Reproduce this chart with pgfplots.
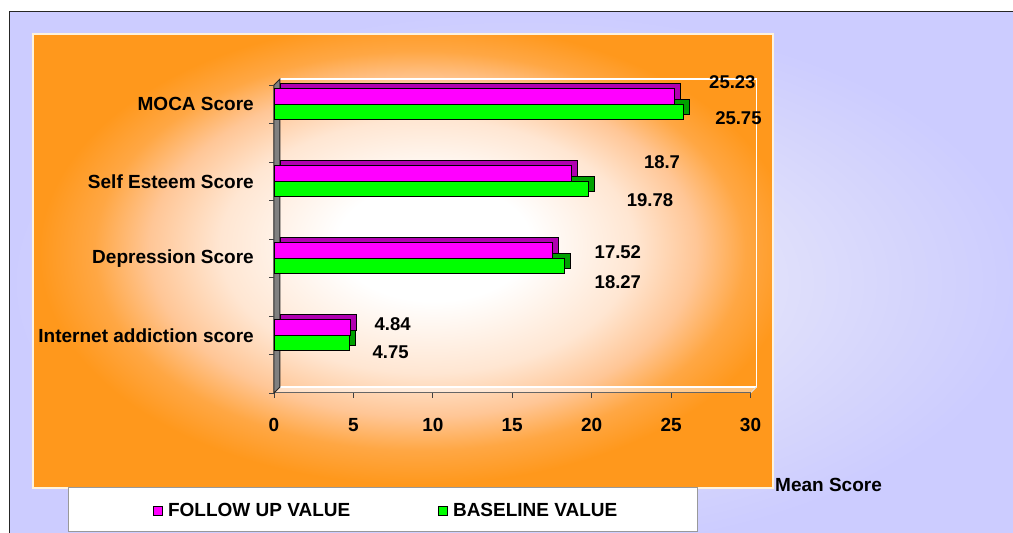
\documentclass[border=0pt]{standalone}
\usepackage{pgfplots}
\pgfplotsset{compat=1.18}
\usepackage{fontspec}
\setmainfont{Liberation Sans}

% bar faces and their darker 3D sides
\definecolor{fupink}{HTML}{FF00FF}
\definecolor{fupinkside}{HTML}{B000B0}
\definecolor{blgreen}{HTML}{00FF00}
\definecolor{blgreenside}{HTML}{00A000}
% backgrounds
\definecolor{plotrim}{HTML}{FFF3DC}
\definecolor{orA}{HTML}{FFE6D2}
\definecolor{orB}{HTML}{FFC696}
\definecolor{orC}{HTML}{FFA744}
\definecolor{orD}{HTML}{FF981C}
\definecolor{lavA}{HTML}{EEEEFD}
\definecolor{lavB}{HTML}{E2E2FB}
\definecolor{lavC}{HTML}{D5D5FC}
\definecolor{lavD}{HTML}{CCCCFF}

% radial glows; a shaded box spans -25bp..25bp of the shading
\pgfdeclareradialshading{plotglow}{\pgfpoint{2.5bp}{2.5bp}}{%
  color(0bp)=(white); color(6.5bp)=(white); color(14bp)=(orA);
  color(18.5bp)=(orB); color(22bp)=(orC); color(25.5bp)=(orD); color(40bp)=(orD)}
\pgfdeclareradialshading{chartglow}{\pgfpoint{0bp}{0bp}}{%
  color(0bp)=(lavA); color(11bp)=(lavB); color(19bp)=(lavC);
  color(25bp)=(lavD); color(40bp)=(lavD)}

\newcommand{\lblfont}{\bfseries\fontsize{19}{23}\selectfont}
\newcommand{\valfont}{\bfseries\fontsize{18.5}{22}\selectfont}

\begin{document}
\begin{tikzpicture}[x=1pt,y=1pt]
\useasboundingbox (0,0) rectangle (1013,533);
\fill[white] (0,0) rectangle (1013,533);
% chart area
\shade[shading=chartglow] (9.5,-20) rectangle (1030,521.5);
\draw[black!85, line width=1.6pt] (9.5,-20) -- (9.5,521.5) -- (1030,521.5);
% plot area
\shade[shading=plotglow] (33,45) rectangle (773,499);
\draw[plotrim, line width=1.2pt] (33,45) rectangle (773,499);
% legend frame
\filldraw[fill=white, draw=black!40, line width=1pt] (68,1) rectangle (697,45);

\begin{axis}[
  at={(274pt,140pt)}, anchor=south west,
  scale only axis, width=476.5pt, height=308pt,
  xmin=0, xmax=30, ymin=0.25, ymax=4.25,
  clip=false,
  axis line style={draw=none},
  xtick={0,5,...,30}, xtick pos=bottom,
  ytick={1,2,3,4},
  yticklabels={Internet addiction score, Depression Score, Self Esteem Score, MOCA Score},
  ytick pos=left,
  tick align=outside, major tick length=5pt,
  xtick style={draw=black!75, line width=0.8pt},
  ytick style={draw=none},
  ticklabel style={font=\lblfont},
  /pgf/number format/assume math mode=true,
  xticklabel style={inner sep=0pt, yshift=-20pt},
  yticklabel style={inner sep=0pt, xshift=-15pt},
  xlabel={Mean Score},
  xlabel style={at={(axis description cs:1.0514,-0.2987)}, anchor=west, inner sep=0pt, font=\lblfont},
  legend columns=2,
  legend style={at={(axis description cs:-0.2539,-0.3831)}, anchor=west,
    draw=none, fill=none, inner sep=0pt, font=\lblfont,
    nodes={inner sep=0pt, anchor=west},
    /tikz/every odd column/.append style={column sep=5pt},
    /tikz/every even column/.append style={column sep=88pt}},
  legend image code/.code={\draw[#1, draw=black, line width=0.8pt] (0pt,-4.5pt) rectangle (9pt,4.5pt);},
]
% 3D frame: left wall, floor and back edges
\fill[white, opacity=0.45] (axis cs:0,0.25) -- (axis cs:30,0.25)
  -- ([shift={(6pt,6pt)}]axis cs:30,0.25) -- ([shift={(6pt,6pt)}]axis cs:0,0.25) -- cycle;
\draw[white, line width=1.5pt] ([shift={(6pt,6pt)}]axis cs:0,0.25) -- ([shift={(6pt,6pt)}]axis cs:30,0.25)
  -- ([shift={(6pt,6pt)}]axis cs:30,4.25) -- ([shift={(6pt,6pt)}]axis cs:0,4.25);
\draw[white!75!gray, line width=1pt] (axis cs:30,0.25) -- ([shift={(6pt,6pt)}]axis cs:30,0.25);
\draw[black!60, line width=1pt] (axis cs:0,0.25) -- (axis cs:30,0.25);
\filldraw[fill=gray, draw=black!85, line width=1pt] (axis cs:0,0.25) -- (axis cs:0,4.25)
  -- ([shift={(6pt,6pt)}]axis cs:0,4.25) -- ([shift={(6pt,6pt)}]axis cs:0,0.25) -- cycle;
\pgfplotsinvokeforeach{0.25,0.75,...,4.25}{\draw[black!75, line width=0.8pt] (axis cs:0,#1) -- ++(-5pt,0pt);}

\addlegendimage{fill=fupink}
\addlegendentry{FOLLOW UP VALUE}
\addlegendimage{fill=blgreen}
\addlegendentry{BASELINE VALUE}

% baseline: depth then face
\addplot[xbar, bar width=0.2, bar shift=-0.1, fill=blgreenside, draw=black, line width=0.9pt,
  xshift=6pt, yshift=5pt, forget plot]
  coordinates {(4.75,1) (18.27,2) (19.78,3) (25.75,4)};
\addplot[xbar, bar width=0.2, bar shift=-0.1, fill=blgreen, draw=black, line width=0.9pt, forget plot]
  coordinates {(4.75,1) (18.27,2) (19.78,3) (25.75,4)};
% follow up: depth then face
\addplot[xbar, bar width=0.2, bar shift=0.1, fill=fupinkside, draw=black, line width=0.9pt,
  xshift=6pt, yshift=5pt, forget plot]
  coordinates {(4.84,1) (17.52,2) (18.7,3) (25.23,4)};
\addplot[xbar, bar width=0.2, bar shift=0.1, fill=fupink, draw=black, line width=0.9pt, forget plot]
  coordinates {(4.84,1) (17.52,2) (18.7,3) (25.23,4)};

% value labels
\node[font=\valfont] at (axis cs:28.86,4.29) {25.23};
\node[font=\valfont] at (axis cs:29.24,3.82) {25.75};
\node[font=\valfont] at (axis cs:24.43,3.25) {18.7};
\node[font=\valfont] at (axis cs:23.67,2.76) {19.78};
\node[font=\valfont] at (axis cs:21.65,2.08) {17.52};
\node[font=\valfont] at (axis cs:21.65,1.69) {18.27};
\node[font=\valfont] at (axis cs:7.47,1.15) {4.84};
\node[font=\valfont] at (axis cs:7.34,0.78) {4.75};
\end{axis}
\end{tikzpicture}
\end{document}
